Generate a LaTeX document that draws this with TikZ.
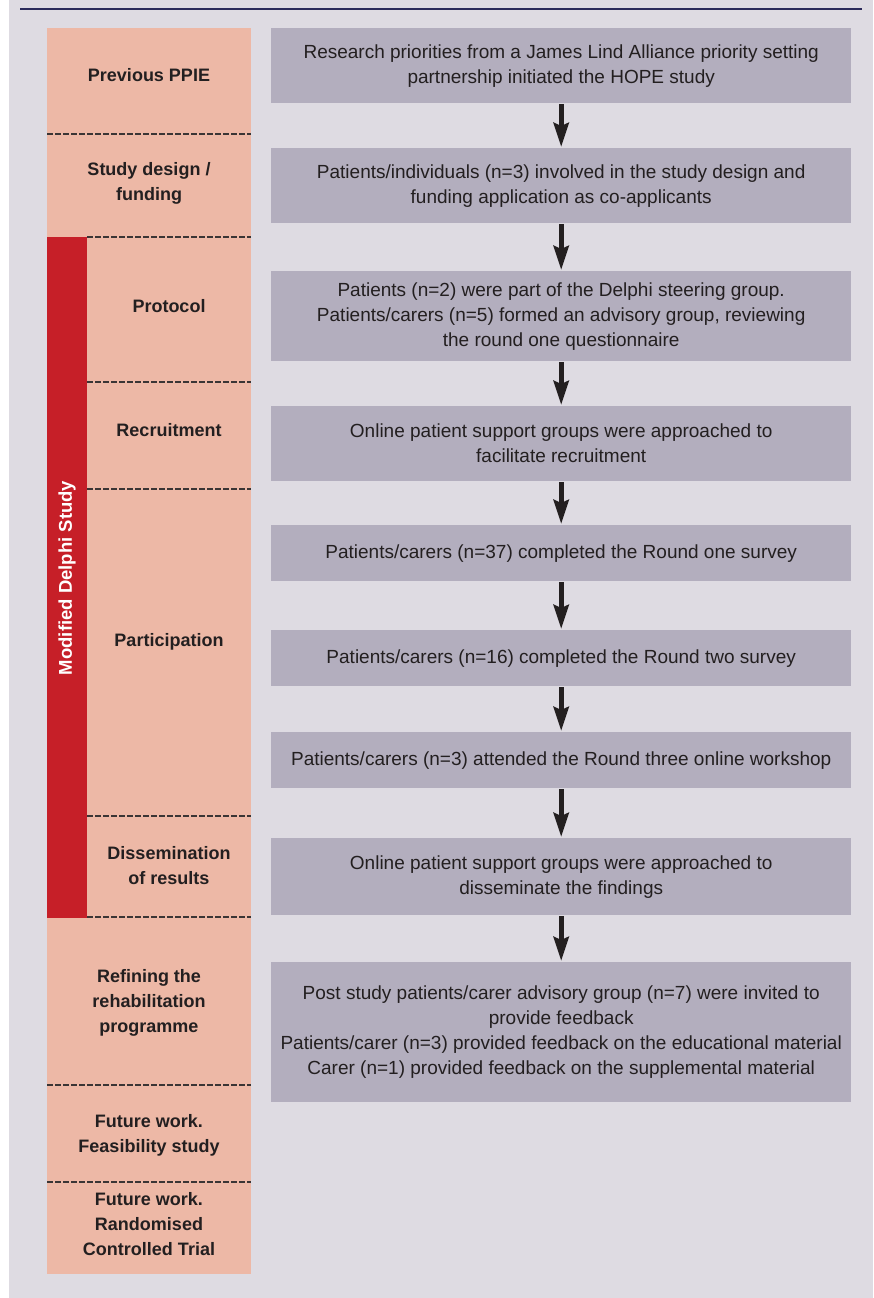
\documentclass[tikz,border=0pt]{standalone}
\usepackage{fontspec}
\setmainfont{Liberation Sans}
\usetikzlibrary{arrows.meta}
\definecolor{bgc}{HTML}{DEDBE2}
\definecolor{pinkc}{HTML}{EDB8A6}
\definecolor{gboxc}{HTML}{B3AEBE}
\definecolor{redc}{HTML}{C61F28}
\definecolor{txtc}{HTML}{231F20}
\definecolor{navyc}{HTML}{2B2A5A}
\definecolor{dashc}{HTML}{3A3535}
\tikzset{
  gbox/.style={fill=gboxc, draw=none, inner sep=0pt, minimum width=580pt,
    anchor=north west, align=center, text=txtc,
    font=\fontsize{19}{25}\selectfont},
  lbl/.style={align=center, text=txtc, inner sep=0pt,
    font=\bfseries\fontsize{18}{25}\selectfont},
  sep/.style={draw=dashc, line width=1.3pt, dash pattern=on 6pt off 2pt},
  flowarr/.style={draw=txtc, line width=5pt, shorten <=1pt, shorten >=1pt,
    -{Stealth[length=24pt, width=15pt, inset=3pt]}}
}
\begin{document}
\begin{tikzpicture}[x=1pt,y=-1pt]
\useasboundingbox (0,0) rectangle (873,1298);
\fill[bgc] (9,0) rectangle (873,1298);
\draw[navyc, line width=2pt] (20,9.5) -- (862,9.5);

% left column
\fill[pinkc] (47,28) rectangle (251,1274);
\fill[redc] (47,237) rectangle (87,918);

\draw[sep] (47,134) -- (251,134);
\draw[sep] (87,237) -- (251,237);
\draw[sep] (87,382) -- (251,382);
\draw[sep] (87,489) -- (251,489);
\draw[sep] (87,816) -- (251,816);
\draw[sep] (87,917) -- (251,917);
\draw[sep] (47,1085) -- (251,1085);
\draw[sep] (47,1182) -- (251,1182);

\node[lbl] (l1) at (149,75) {Previous PPIE};
\node[lbl] (l2) at (149,183) {Study design /\\funding};
\node[lbl] (l3) at (169,306) {Protocol};
\node[lbl] (l4) at (169,430) {Recruitment};
\node[lbl] (l5) at (169,642) {Participation};
\node[lbl] (l6) at (169,866) {Dissemination\\of results};
\node[lbl] (l7) at (149,1003) {Refining the\\rehabilitation\\programme};
\node[lbl] (l8) at (149,1135) {Future work.\\Feasibility study};
\node[lbl] (l9) at (149,1224) {Future work.\\Randomised\\Controlled Trial};
\node[lbl, text=white, rotate=90, font=\bfseries\fontsize{18.5}{25}\selectfont] (md) at (67,578) {Modified Delphi Study};

% right column
\node[gbox, minimum height=75pt] (b1) at (271,28) {Research priorities from a James Lind Alliance priority setting\\partnership initiated the HOPE study};
\node[gbox, minimum height=75pt] (b2) at (271,148) {Patients/individuals (n=3) involved in the study design and\\funding application as co-applicants};
\node[gbox, minimum height=90pt] (b3) at (271,271) {Patients (n=2) were part of the Delphi steering group.\\Patients/carers (n=5) formed an advisory group, reviewing\\the round one questionnaire};
\node[gbox, minimum height=75pt] (b4) at (271,406) {Online patient support groups were approached to\\facilitate recruitment};
\node[gbox, minimum height=56pt] (b5) at (271,525) {Patients/carers (n=37) completed the Round one survey};
\node[gbox, minimum height=56pt] (b6) at (271,630) {Patients/carers (n=16) completed the Round two survey};
\node[gbox, minimum height=56pt] (b7) at (271,732) {Patients/carers (n=3) attended the Round three online workshop};
\node[gbox, minimum height=77pt] (b8) at (271,838) {Online patient support groups were approached to\\disseminate the findings};
\node[gbox, minimum height=140pt] (b9) at (271,962) {Post study patients/carer advisory group (n=7) were invited to\\provide feedback\\Patients/carer (n=3) provided feedback on the educational material\\Carer (n=1) provided feedback on the supplemental material};

\draw[flowarr] (b1.south) -- (b2.north);
\draw[flowarr] (b2.south) -- (b3.north);
\draw[flowarr] (b3.south) -- (b4.north);
\draw[flowarr] (b4.south) -- (b5.north);
\draw[flowarr] (b5.south) -- (b6.north);
\draw[flowarr] (b6.south) -- (b7.north);
\draw[flowarr] (b7.south) -- (b8.north);
\draw[flowarr] (b8.south) -- (b9.north);
\end{tikzpicture}
\end{document}
